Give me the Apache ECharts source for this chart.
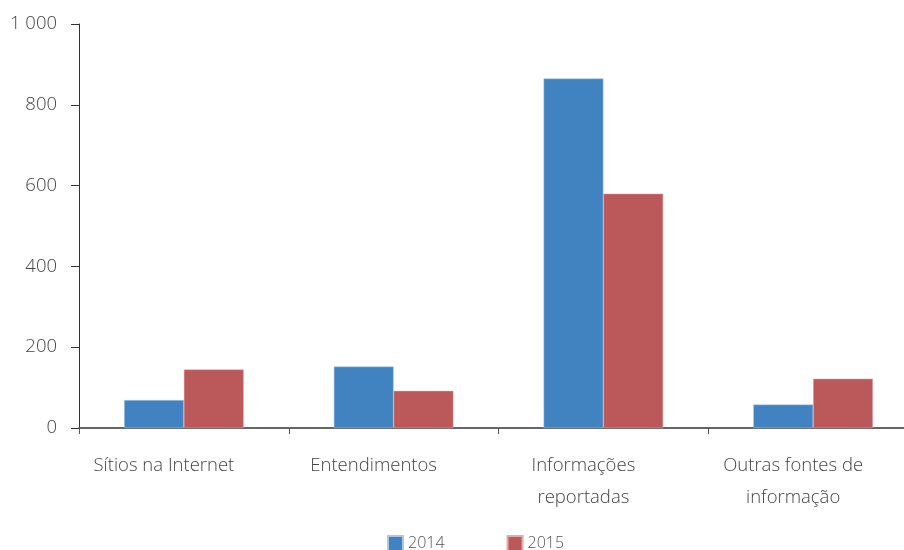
<!DOCTYPE html>
<html>
<head>
<meta charset="utf-8">
<script src="https://cdn.jsdelivr.net/npm/echarts@6/dist/echarts.min.js"></script>
<style>
  html, body { margin: 0; padding: 0; background: #fff; overflow: hidden; width: 904px; height: 550px; }
  /* the plot area runs a little past the right edge of the page */
  #chart { width: 918px; height: 550px; }
</style>
</head>
<body>
<div id="chart"></div>
<script>
// Categories and yearly values
const categories = ['Sítios na Internet', 'Entendimentos', 'Informações\nreportadas', 'Outras fontes de\ninformação'];
const values2014 = [69, 152, 865, 58];
const values2015 = [145, 92, 580, 122];
const yTicks = [0, 200, 400, 600, 800, 1000];

const chart = echarts.init(document.getElementById('chart'));
const font = '"Open Sans", "Noto Sans", sans-serif';

chart.setOption({
  animation: false,
  textStyle: { fontFamily: font },
  grid: { left: 79, right: 0, top: 24, bottom: 122, containLabel: false },
  legend: {
    top: 530,
    left: 382,
    itemWidth: 15,
    itemHeight: 15,
    itemGap: 62,
    icon: 'rect',
    textStyle: { fontSize: 16, color: '#555', fontFamily: font, fontWeight: 300 },
    data: ['2014', '2015']
  },
  xAxis: {
    type: 'category',
    data: categories,
    axisLine: { lineStyle: { color: '#666', width: 2 } },
    axisTick: { show: true, length: 6, lineStyle: { color: '#555' }, alignWithLabel: false },
    axisLabel: {
      fontSize: 18.5, color: '#444', lineHeight: 32, margin: 22, fontWeight: 300, fontFamily: font,
      padding: [0, 40, 0, 0]
    }
  },
  yAxis: {
    type: 'value',
    min: yTicks[0],
    max: yTicks[yTicks.length - 1],
    interval: 200,
    splitLine: { show: false },
    axisLine: { show: true, lineStyle: { color: '#333', width: 1 } },
    axisTick: { show: true, length: 8, lineStyle: { color: '#333' } },
    axisLabel: {
      fontSize: 18.5, color: '#444', margin: 22, fontWeight: 300, fontFamily: font,
      formatter: v => String(v).replace(/\B(?=(\d{3})+(?!\d))/g, ' ')
    }
  },
  series: [
    {
      name: '2014', type: 'bar', data: values2014,
      barGap: '0%', barCategoryGap: '43%',
      itemStyle: { color: '#4183c0', borderColor: '#a9c8e6', borderWidth: 0.5 }
    },
    {
      name: '2015', type: 'bar', data: values2015,
      itemStyle: { color: '#bb5859', borderColor: '#e5a9a9', borderWidth: 0.5 }
    }
  ]
});
</script>
</body>
</html>
